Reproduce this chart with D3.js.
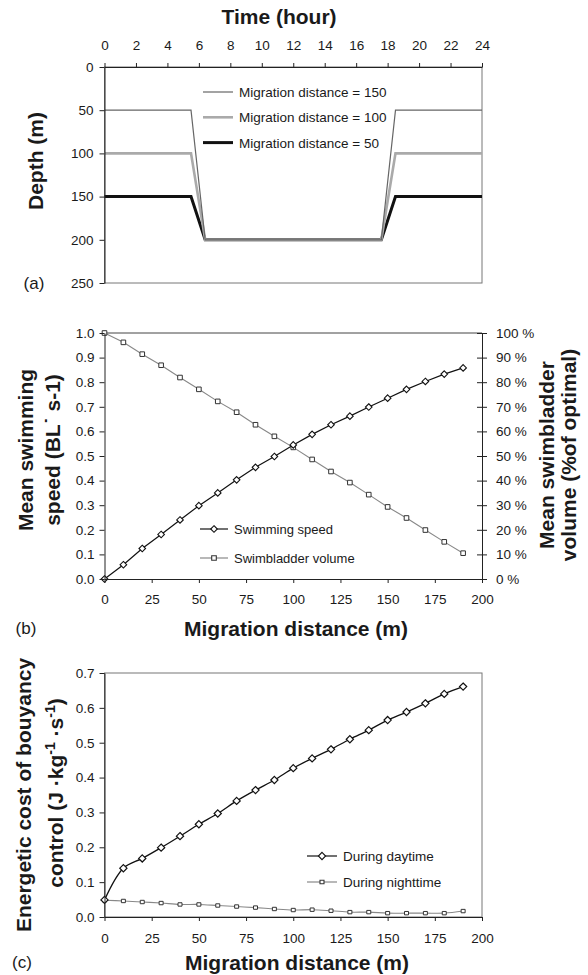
<!DOCTYPE html>
<html>
<head>
<meta charset="utf-8">
<script src="https://cdn.jsdelivr.net/npm/d3@7"></script>
<style>
  html, body { margin: 0; padding: 0; background: #fff; }
</style>
</head>
<body>
<div id="chart"></div>
<script>
// Three stacked panels: (a) depth vs time, (b) speed + swimbladder, (c) energetic cost

// ---- data ----
const timeHours = [0, 5.5, 6.4, 17.6, 18.5, 24];
const depthMig150 = [50, 50, 200, 200, 50, 50];
const depthMig100 = [100, 100, 200, 200, 100, 100];
const depthMig50 = [150, 150, 200, 200, 150, 150];
const timeTicks = [0, 2, 4, 6, 8, 10, 12, 14, 16, 18, 20, 22, 24];
const depthTicks = [0, 50, 100, 150, 200, 250];

const distance = [0, 10, 20, 30, 40, 50, 60, 70, 80, 90, 100, 110, 120, 130, 140, 150, 160, 170, 180, 190];
const swimSpeed = [0, 0.058, 0.124, 0.181, 0.24, 0.298, 0.35, 0.403, 0.454, 0.498, 0.545, 0.588, 0.627, 0.662, 0.699, 0.735, 0.771, 0.803, 0.833, 0.858];
const swimbladderPct = [100, 96.2, 91.4, 86.9, 81.9, 77.1, 72.2, 67.8, 62.7, 58.0, 53.5, 48.6, 43.7, 39.2, 34.3, 29.3, 24.8, 19.9, 15.1, 10.5];
const costDay = [0.049, 0.14, 0.168, 0.199, 0.232, 0.266, 0.297, 0.333, 0.364, 0.393, 0.427, 0.455, 0.481, 0.51, 0.536, 0.565, 0.588, 0.613, 0.64, 0.661];
const costNight = [0.048, 0.046, 0.043, 0.04, 0.036, 0.036, 0.033, 0.03, 0.027, 0.023, 0.02, 0.021, 0.018, 0.014, 0.014, 0.011, 0.011, 0.011, 0.011, 0.017];
const distTicks = [0, 25, 50, 75, 100, 125, 150, 175, 200];
const speedTicks = [0, 0.1, 0.2, 0.3, 0.4, 0.5, 0.6, 0.7, 0.8, 0.9, 1.0];
const pctTicks = [0, 10, 20, 30, 40, 50, 60, 70, 80, 90, 100];
const costTicks = [0, 0.1, 0.2, 0.3, 0.4, 0.5, 0.6, 0.7];

const FONT = '"Liberation Sans", Arial, Helvetica, sans-serif';
const TEXT = '#1a1a1a';
const W = 588, H = 975;
const X0 = 104.5, X1 = 482;

const svg = d3.select('#chart').append('svg')
    .attr('width', W).attr('height', H)
    .style('background', '#fff')
    .attr('font-family', FONT);

function styleAxis(g, size) {
    g.attr('font-family', FONT).attr('font-size', size || 13.5);
    g.selectAll('text').attr('fill', TEXT);
    g.selectAll('line').attr('stroke', '#222');
    g.select('.domain').attr('stroke', '#222');
}

function frame(top, bottom) {
    svg.append('rect')
        .attr('x', X0).attr('y', top)
        .attr('width', X1 - X0).attr('height', bottom - top)
        .attr('fill', 'none').attr('stroke', '#777').attr('stroke-width', 1);
}

function vTitle(lines, xs, cy) {
    lines.forEach((t, i) => {
        svg.append('text')
            .attr('transform', `translate(${xs[i]},${cy}) rotate(-90)`)
            .attr('text-anchor', 'middle')
            .attr('font-size', 21).attr('font-weight', 700).attr('fill', TEXT)
            .text(t);
    });
}

function hTitle(text, cx, y) {
    svg.append('text')
        .attr('x', cx).attr('y', y)
        .attr('text-anchor', 'middle')
        .attr('font-size', 21).attr('font-weight', 700).attr('fill', TEXT)
        .text(text);
}

function panelTag(text, x, y) {
    svg.append('text')
        .attr('x', x).attr('y', y)
        .attr('text-anchor', 'middle')
        .attr('font-size', 17).attr('fill', TEXT)
        .text(text);
}

const diamondPath = r => `M0,${-r}L${r},0L0,${r}L${-r},0Z`;
const squarePath = (w, h) => `M${-w / 2},${-h / 2}h${w}v${h}h${-w}Z`;

// ---------------- Panel (a) ----------------
{
    const top = 67, bottom = 283;
    const x = d3.scaleLinear().domain([0, 24]).range([X0, X1]);
    const y = d3.scaleLinear().domain([0, 250]).range([top, bottom]);

    frame(top, bottom);

    const series = [
        { label: 'Migration distance = 150', depth: depthMig150, color: '#666', width: 1.2 },
        { label: 'Migration distance = 100', depth: depthMig100, color: '#aaa', width: 2.6 },
        { label: 'Migration distance = 50', depth: depthMig50, color: '#111', width: 3 }
    ];
    const line = d3.line().x(d => x(d[0])).y(d => y(d[1]));
    // draw thin lines last so they stay visible on the slopes
    [series[2], series[1], series[0]].forEach(s => {
        svg.append('path')
            .datum(timeHours.map((t, i) => [t, s.depth[i]]))
            .attr('d', line)
            .attr('fill', 'none').attr('stroke', s.color)
            .attr('stroke-width', s.width).attr('stroke-linejoin', 'miter');
    });

    const gx = svg.append('g').attr('transform', `translate(0,${top})`)
        .call(d3.axisTop(x).tickValues(timeTicks).tickFormat(d3.format('d')).tickSize(4).tickPadding(13).tickSizeOuter(0));
    styleAxis(gx);
    const gy = svg.append('g').attr('transform', `translate(${X0},0)`)
        .call(d3.axisLeft(y).tickValues(depthTicks).tickSize(5).tickPadding(6).tickSizeOuter(0));
    styleAxis(gy);

    // legend
    series.forEach((s, i) => {
        const ly = 92 + i * 25.3;
        svg.append('line').attr('x1', 203).attr('x2', 233).attr('y1', ly).attr('y2', ly)
            .attr('stroke', s.color).attr('stroke-width', s.width);
        svg.append('text').attr('x', 239).attr('y', ly + 5)
            .attr('font-size', 13.5).attr('fill', TEXT).text(s.label);
    });

    hTitle('Time (hour)', 279, 24);
    vTitle(['Depth (m)'], [43], 161);
    panelTag('(a)', 34, 289);
}

// ---------------- Panel (b) ----------------
{
    const top = 333, bottom = 579;
    const x = d3.scaleLinear().domain([0, 200]).range([X0, X1]);
    const yL = d3.scaleLinear().domain([0, 1]).range([bottom, top]);
    const yR = d3.scaleLinear().domain([0, 100]).range([bottom, top]);

    svg.append('line').attr('x1', X0).attr('x2', X1).attr('y1', top).attr('y2', top)
        .attr('stroke', '#444').attr('stroke-width', 1);

    const lineS = d3.line().x((d, i) => x(distance[i])).y(d => yL(d));
    const lineV = d3.line().x((d, i) => x(distance[i])).y(d => yR(d));

    svg.append('path').datum(swimbladderPct).attr('d', lineV)
        .attr('fill', 'none').attr('stroke', '#888').attr('stroke-width', 1.1);
    svg.append('path').datum(swimSpeed).attr('d', lineS)
        .attr('fill', 'none').attr('stroke', '#111').attr('stroke-width', 1.2);

    svg.append('g').selectAll('path').data(swimbladderPct).join('path')
        .attr('transform', (d, i) => `translate(${x(distance[i])},${yR(d)})`)
        .attr('d', squarePath(4.6, 4.6))
        .attr('fill', '#fff').attr('stroke', '#333').attr('stroke-width', 1);
    svg.append('g').selectAll('path').data(swimSpeed).join('path')
        .attr('transform', (d, i) => `translate(${x(distance[i])},${yL(d)})`)
        .attr('d', diamondPath(3.3))
        .attr('fill', '#fff').attr('stroke', '#111').attr('stroke-width', 1.1);

    const gx = svg.append('g').attr('transform', `translate(0,${bottom})`)
        .call(d3.axisBottom(x).tickValues(distTicks).tickSize(4).tickPadding(11).tickSizeOuter(0));
    styleAxis(gx);
    const gy = svg.append('g').attr('transform', `translate(${X0},0)`)
        .call(d3.axisLeft(yL).tickValues(speedTicks).tickFormat(d3.format('.1f')).tickSize(5).tickPadding(5).tickSizeOuter(0));
    styleAxis(gy);
    const gr = svg.append('g').attr('transform', `translate(${X1},0)`)
        .call(d3.axisRight(yR).tickValues(pctTicks).tickFormat(d => d + ' %').tickSize(5).tickPadding(9).tickSizeOuter(0));
    styleAxis(gr);
    gr.selectAll('.tick line').attr('x1', -5);

    // legend
    const leg = [
        { label: 'Swimming speed', y: 529, kind: 'diamond' },
        { label: 'Swimbladder volume', y: 558, kind: 'square' }
    ];
    leg.forEach(l => {
        svg.append('line').attr('x1', 200).attr('x2', 228).attr('y1', l.y).attr('y2', l.y)
            .attr('stroke', l.kind === 'diamond' ? '#111' : '#888').attr('stroke-width', 1.2);
        svg.append('path').attr('transform', `translate(214,${l.y})`)
            .attr('d', l.kind === 'diamond' ? diamondPath(3.3) : squarePath(4.6, 4.6))
            .attr('fill', '#fff').attr('stroke', l.kind === 'diamond' ? '#111' : '#333').attr('stroke-width', 1.1);
        svg.append('text').attr('x', 234).attr('y', l.y + 4.8)
            .attr('font-size', 13).attr('fill', TEXT).text(l.label);
    });

    hTitle('Migration distance (m)', 296, 636);
    vTitle(['Mean swimming', 'speed (BL\u02D9 s-1)'], [33, 60], 450);
    vTitle(['Mean swimbladder', 'volume (%of optimal)'], [554, 576], 455);
    panelTag('(b)', 26, 634);
}

// ---------------- Panel (c) ----------------
{
    const top = 673, bottom = 917;
    const x = d3.scaleLinear().domain([0, 200]).range([X0, X1]);
    const y = d3.scaleLinear().domain([0, 0.7]).range([bottom, top]);

    frame(top, bottom);

    const line = d3.line().x((d, i) => x(distance[i])).y(d => y(d)).curve(d3.curveCatmullRom.alpha(0.5));

    svg.append('path').datum(costNight).attr('d', line)
        .attr('fill', 'none').attr('stroke', '#888').attr('stroke-width', 1.1);
    svg.append('path').datum(costDay).attr('d', line)
        .attr('fill', 'none').attr('stroke', '#111').attr('stroke-width', 1.3);

    svg.append('g').selectAll('path').data(costNight).join('path')
        .attr('transform', (d, i) => `translate(${x(distance[i])},${y(d)})`)
        .attr('d', squarePath(4, 3.4))
        .attr('fill', '#fff').attr('stroke', '#333').attr('stroke-width', 1);
    svg.append('g').selectAll('path').data(costDay).join('path')
        .attr('transform', (d, i) => `translate(${x(distance[i])},${y(d)})`)
        .attr('d', diamondPath(3.6))
        .attr('fill', '#fff').attr('stroke', '#111').attr('stroke-width', 1.2);

    const gx = svg.append('g').attr('transform', `translate(0,${bottom})`)
        .call(d3.axisBottom(x).tickValues(distTicks).tickSize(4).tickPadding(12).tickSizeOuter(0));
    styleAxis(gx);
    const gy = svg.append('g').attr('transform', `translate(${X0},0)`)
        .call(d3.axisLeft(y).tickValues(costTicks).tickFormat(d3.format('.1f')).tickSize(5).tickPadding(5).tickSizeOuter(0));
    styleAxis(gy);

    const leg = [
        { label: 'During daytime', y: 856, kind: 'diamond' },
        { label: 'During nighttime', y: 882, kind: 'square' }
    ];
    leg.forEach(l => {
        svg.append('line').attr('x1', 307).attr('x2', 337).attr('y1', l.y).attr('y2', l.y)
            .attr('stroke', l.kind === 'diamond' ? '#111' : '#888').attr('stroke-width', 1.2);
        svg.append('path').attr('transform', `translate(322,${l.y})`)
            .attr('d', l.kind === 'diamond' ? diamondPath(3.6) : squarePath(4, 3.4))
            .attr('fill', '#fff').attr('stroke', l.kind === 'diamond' ? '#111' : '#333').attr('stroke-width', 1.1);
        svg.append('text').attr('x', 343).attr('y', l.y + 5)
            .attr('font-size', 13.5).attr('fill', TEXT).text(l.label);
    });

    hTitle('Migration distance (m)', 297, 970);
    svg.append('text')
        .attr('transform', `translate(31,795) rotate(-90)`)
        .attr('text-anchor', 'middle')
        .attr('font-size', 21).attr('font-weight', 700).attr('fill', TEXT)
        .text('Energetic cost of bouyancy');
    const t2 = svg.append('text')
        .attr('transform', `translate(63,793) rotate(-90)`)
        .attr('text-anchor', 'middle')
        .attr('font-size', 21).attr('font-weight', 700).attr('fill', TEXT);
    t2.append('tspan').text('control (J \u00B7kg');
    t2.append('tspan').attr('dy', -8).attr('font-size', 14).text('-1');
    t2.append('tspan').attr('dy', 8).text(' \u00B7s');
    t2.append('tspan').attr('dy', -8).attr('font-size', 14).text('-1');
    t2.append('tspan').attr('dy', 8).text(')');
    panelTag('(c)', 22, 968);
}
</script>
</body>
</html>
